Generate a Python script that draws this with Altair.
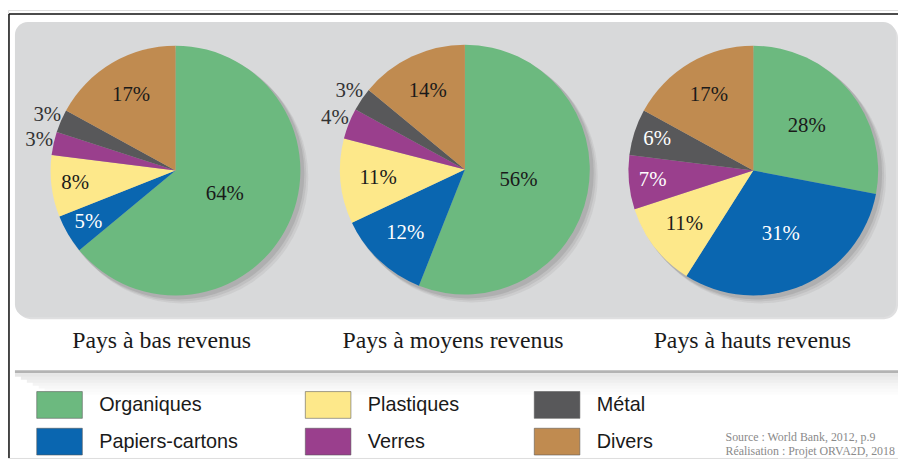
import altair as alt
import pandas as pd

categories = ["Organiques", "Papiers-cartons", "Plastiques", "Verres", "Métal", "Divers"]
colors = ["#6cb97f", "#0a66b0", "#fde88a", "#9a3f8d", "#58585a", "#c08b50"]
pie_titles = ["Pays à bas revenus", "Pays à moyens revenus", "Pays à hauts revenus"]
low_income = [64, 5, 8, 3, 3, 17]
middle_income = [56, 12, 11, 4, 3, 14]
high_income = [28, 31, 11, 7, 6, 17]
source_lines = ["Source : World Bank, 2012, p.9", "Réalisation : Projet ORVA2D, 2018"]

series = [low_income, middle_income, high_income]
rows = []
for p, vals in enumerate(series):
    for i, (c, v) in enumerate(zip(categories, vals)):
        rows.append({"pie": p, "idx": i, "category": c, "value": v})
df = pd.DataFrame(rows)

W, H = 898, 452
centers = [(169, 162), (461, 161), (752, 162)]
R = 126

color_scale = alt.Scale(domain=categories, range=colors)
SERIF = "Liberation Serif"
SANS = "Liberation Sans"

layers = []

# frame lines
layers.append(alt.Chart(pd.DataFrame({"a": [0]})).mark_rule(color="#111", strokeWidth=1.5).encode(
    x=alt.value(1), y=alt.value(4), y2=alt.value(H)))
layers.append(alt.Chart(pd.DataFrame({"a": [0]})).mark_rule(color="#111", strokeWidth=1.5).encode(
    x=alt.value(1), x2=alt.value(W), y=alt.value(4)))

# panel shadow + panel
layers.append(alt.Chart(pd.DataFrame({"a": [0]})).mark_rect(cornerRadius=14, color="#c9cacb", opacity=0.6).encode(
    x=alt.value(9), x2=alt.value(898), y=alt.value(14), y2=alt.value(312)))
layers.append(alt.Chart(pd.DataFrame({"a": [0]})).mark_rect(cornerRadius=13, color="#d8d9da").encode(
    x=alt.value(7), x2=alt.value(896), y=alt.value(12), y2=alt.value(310)))

# separator with soft shadow
for k, op in enumerate([0.35, 0.28, 0.22, 0.16, 0.11, 0.07, 0.04]):
    layers.append(alt.Chart(pd.DataFrame({"a": [0]})).mark_rect(color="#b8b8b8", opacity=op).encode(
        x=alt.value(7 + 6 * k), x2=alt.value(W), y=alt.value(367 + 3 * k), y2=alt.value(370 + 3 * k)))
layers.append(alt.Chart(pd.DataFrame({"a": [0]})).mark_rule(color="#b3b3b3", strokeWidth=3).encode(
    x=alt.value(7), x2=alt.value(W), y=alt.value(365)))

for p in range(3):
    cx, cy = centers[p]
    # pie shadow
    for off, op in [(7, 0.10), (5, 0.14), (3, 0.2)]:
        layers.append(alt.Chart(pd.DataFrame({"a": [0]})).mark_arc(
            theta=0, theta2=6.2832, radius=R + 1, color="#6f6f6f", opacity=op).encode(
            x=alt.value(cx + off), y=alt.value(cy + off)))
    base = alt.Chart(df).transform_filter(alt.datum.pie == p)
    layers.append(base.mark_arc(radius=R).encode(
        x=alt.value(cx), y=alt.value(cy),
        theta=alt.Theta("value:Q", stack=True),
        color=alt.Color("category:N", scale=color_scale, legend=None),
        order=alt.Order("idx:Q"),
    ))
    layers.append(base.transform_window(
        cum="sum(value)", sort=[alt.SortField("idx")], frame=[None, 0]
    ).transform_joinaggregate(
        total="sum(value)"
    ).transform_calculate(
        mid="(datum.cum - datum.value / 2) / datum.total * 2 * PI",
        r="datum.value <= 4 ? 141 : datum.value <= 8 ? 102 : datum.value <= 17 ? 88 : datum.value <= 31 ? 70 : 55",
        label="datum.value + '%'",
        tc="(datum.value >= 5 && (datum.idx == 1 || datum.idx == 3 || datum.idx == 4)) ? '#ffffff' : datum.value <= 4 ? '#333333' : '#1a1a1a'",
    ).mark_text(font=SERIF, fontSize=21, align="center", baseline="middle").encode(
        x=alt.value(cx), y=alt.value(cy),
        theta=alt.Theta("mid:Q", scale=None),
        radius=alt.Radius("r:Q", scale=None),
        text="label:N",
        color=alt.Color("tc:N", scale=None),
    ))

# titles
title_x = [155, 449, 751]
tdf = pd.DataFrame({"t": pie_titles, "i": [0, 1, 2]})
layers.append(alt.Chart(tdf).transform_calculate(
    px=f"[{title_x[0]}, {title_x[1]}, {title_x[2]}][datum.i]"
).mark_text(font=SERIF, fontSize=24, color="#1a1a1a", baseline="middle").encode(
    x=alt.X("px:Q", scale=None), y=alt.value(334), text="t:N"))

# legend
ldf = pd.DataFrame({"category": categories, "i": list(range(6))})
leg = alt.Chart(ldf).transform_calculate(
    col="floor(datum.i / 2)", row="datum.i % 2"
).transform_calculate(
    sx="[29, 300, 531][datum.col]", ry="398.5 + datum.row * 37"
).transform_calculate(
    sx2="datum.sx + 46", sy="datum.ry - 13.5", sy2="datum.ry + 13.5", tx="datum.sx + 63"
)
layers.append(leg.mark_rect(stroke="#555", strokeWidth=0.8, strokeOpacity=0.7).encode(
    x=alt.X("sx:Q", scale=None), x2="sx2:Q", y=alt.Y("sy:Q", scale=None), y2="sy2:Q",
    color=alt.Color("category:N", scale=color_scale, legend=None)))
layers.append(leg.mark_text(font=SANS, fontSize=20, align="left", baseline="middle", color="#1a1a1a").encode(
    x=alt.X("tx:Q", scale=None), y=alt.Y("ry:Q", scale=None), text="category:N"))

# source
sdf = pd.DataFrame({"s": source_lines, "i": [0, 1]})
layers.append(alt.Chart(sdf).transform_calculate(py="431 + datum.i * 14").mark_text(
    font=SERIF, fontSize=12, align="left", baseline="middle", color="#8a8a8a").encode(
    x=alt.value(724), y=alt.Y("py:Q", scale=None), text="s:N"))

chart = alt.layer(*layers).properties(
    width=W, height=H, autosize=alt.AutoSizeParams(type="none"), padding=0
).configure_view(stroke=None).configure(background="white")

chart.save("out.html", embed_options={"renderer": "svg", "actions": False})
